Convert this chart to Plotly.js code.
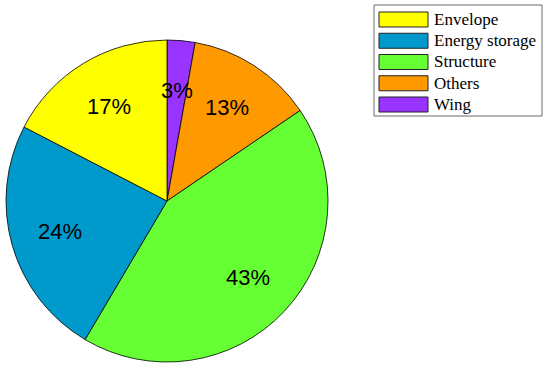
<!DOCTYPE html>
<html>
<head>
<meta charset="utf-8">
<script src="https://cdn.plot.ly/plotly-3.0.1.min.js"></script>
<style>html,body{margin:0;padding:0;background:#fff}#chart{width:550px;height:368px}</style>
</head>
<body>
<div id="chart"></div>
<script>
// Data (legend order); shares
const categories = ["Envelope", "Energy storage", "Structure", "Others", "Wing"];
const shares = [17.4, 24.1, 43.0, 12.7, 2.8];
const sliceColors = ["#FFFF00", "#0099CC", "#66FF33", "#FF9900", "#9933FF"];

const W = 550, H = 368;
const pieDomain = {x: [0.0109, 0.5964], y: [0.0163, 0.8913]};

// Pie drawn clockwise from 12 o'clock; reversed order puts Envelope just left of 12.
const pieLabels = categories.slice().reverse();
const pieValues = shares.slice().reverse();
const pieColors = sliceColors.slice().reverse();

const trace = {
  type: "pie",
  labels: pieLabels,
  values: pieValues,
  sort: false,
  direction: "clockwise",
  rotation: 0,
  marker: {colors: pieColors, line: {color: "#000", width: 0.8}},
  textinfo: "none",
  hoverinfo: "label+percent",
  showlegend: false,
  domain: pieDomain
};

// Percentage labels placed at the slice mid-angles (derived from the values)
const total = pieValues.reduce((a, b) => a + b, 0);
const cxPx = W * (pieDomain.x[0] + pieDomain.x[1]) / 2;
const cyPx = H * (1 - (pieDomain.y[0] + pieDomain.y[1]) / 2);
const rPx = Math.min(W * (pieDomain.x[1] - pieDomain.x[0]), H * (pieDomain.y[1] - pieDomain.y[0])) / 2;
const labelRadius = 0.69;
const annotations = [];
let cum = 0;
pieValues.forEach((v) => {
  const mid = (cum + v / 2) / total * 2 * Math.PI;
  cum += v;
  const px = cxPx + Math.sin(mid) * rPx * labelRadius;
  const py = cyPx - Math.cos(mid) * rPx * labelRadius;
  annotations.push({
    xref: "paper", yref: "paper", x: px / W, y: 1 - py / H,
    xanchor: "center", yanchor: "middle", showarrow: false,
    text: Math.round(v / total * 100) + "%",
    font: {family: "Liberation Sans, Arial, sans-serif", size: 22, color: "#000"}
  });
});

// Legend box (drawn with shapes/annotations so the swatches match the original)
const shapes = [];
const legLeft = 374, legTop = 5, legRight = 542, legBottom = 116;
shapes.push({type: "rect", xref: "paper", yref: "paper",
  x0: legLeft / W, x1: legRight / W, y0: 1 - legBottom / H, y1: 1 - legTop / H,
  line: {color: "#6b6b6b", width: 1}, fillcolor: "#fff", layer: "below"});
const rowStart = 19.5, rowPitch = 21.25, swL = 379, swR = 428, swH = 15, txtX = 432;
categories.forEach((name, i) => {
  const yc = rowStart + i * rowPitch;
  shapes.push({type: "rect", xref: "paper", yref: "paper",
    x0: swL / W, x1: swR / W, y0: 1 - (yc + swH / 2) / H, y1: 1 - (yc - swH / 2) / H,
    line: {color: "#222", width: 1}, fillcolor: sliceColors[i]});
  annotations.push({xref: "paper", yref: "paper", x: txtX / W, y: 1 - yc / H,
    xanchor: "left", yanchor: "middle", showarrow: false, text: name,
    font: {family: "Liberation Serif, Times New Roman, serif", size: 17, color: "#000"}});
});

const layout = {
  width: W, height: H,
  margin: {l: 0, r: 0, t: 0, b: 0},
  paper_bgcolor: "#fff",
  showlegend: false,
  shapes: shapes,
  annotations: annotations
};

Plotly.newPlot("chart", [trace], layout, {staticPlot: true});
</script>
</body>
</html>
